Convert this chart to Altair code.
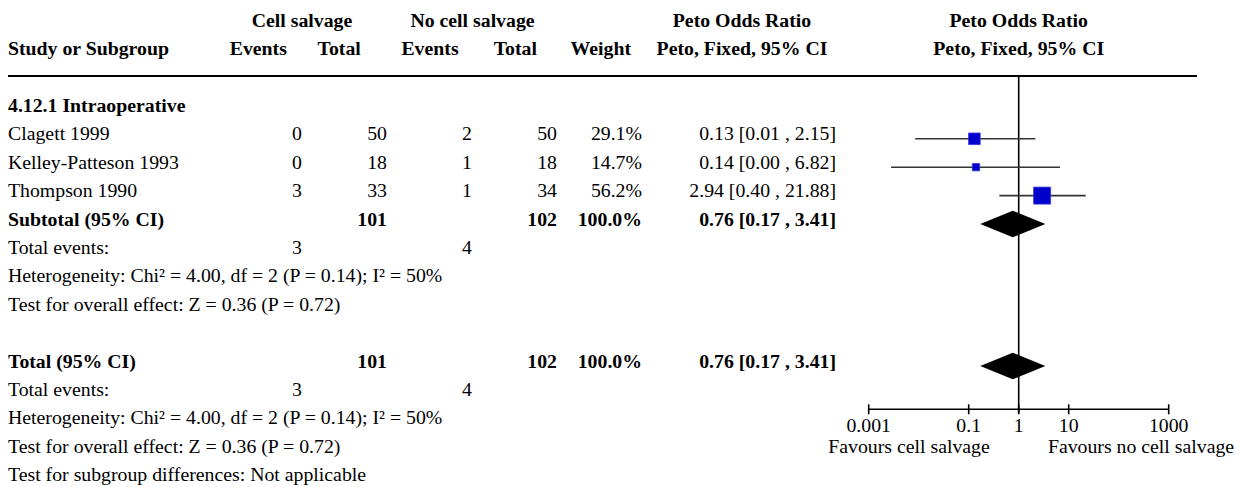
import altair as alt
import pandas as pd

FONT = "Liberation Serif"
FS = 19.8

# ---------------- data ----------------
subgroup_title = "4.12.1 Intraoperative"
studies = ["Clagett 1999", "Kelley-Patteson 1993", "Thompson 1990"]
cs_events = [0, 0, 3]
cs_total = [50, 18, 33]
ncs_events = [2, 1, 1]
ncs_total = [50, 18, 34]
weights = [29.1, 14.7, 56.2]
or_est = [0.13, 0.14, 2.94]
or_lo = [0.01, 0.00, 0.40]
or_hi = [2.15, 6.82, 21.88]
# CI ends as drawn in the plot (the 0.00 lower bound is drawn near 0.003)
ci_lo_drawn = [0.0085, 0.0028, 0.41]
ci_hi_drawn = [2.15, 6.7, 21.9]

pooled_labels = ["Subtotal (95% CI)", "Total (95% CI)"]
pooled_est = 0.76
pooled_lo = 0.17
pooled_hi = 3.41
pooled_cs_total = 101
pooled_ncs_total = 102
pooled_weight = 100.0
events_cs = 3
events_ncs = 4
heterogeneity = "Heterogeneity: Chi\u00b2 = 4.00, df = 2 (P = 0.14); I\u00b2 = 50%"
overall = "Test for overall effect: Z = 0.36 (P = 0.72)"
subgroup_diff = "Test for subgroup differences: Not applicable"

axis_ticks = [0.001, 0.1, 1, 10, 1000]
axis_labels = ["0.001", "0.1", "1", "10", "1000"]
favours_left = "Favours cell salvage"
favours_right = "Favours no cell salvage"

# ---------------- table cells ----------------
def fmt_or(e, l, h):
    return f"{e:.2f} [{l:.2f} , {h:.2f}]"

cells = []
def add(row, col, text, bold=False):
    cells.append({"row": row, "col": col, "text": str(text), "bold": bold})

add(-3, "cs_head", "Cell salvage", True)
add(-3, "ncs_head", "No cell salvage", True)
add(-3, "or_head", "Peto Odds Ratio", True)
add(-3, "plot_head", "Peto Odds Ratio", True)
add(-2, "study", "Study or Subgroup", True)
add(-2, "cs_ev_h", "Events", True)
add(-2, "cs_tot_h", "Total", True)
add(-2, "ncs_ev_h", "Events", True)
add(-2, "ncs_tot_h", "Total", True)
add(-2, "w_h", "Weight", True)
add(-2, "or_head", "Peto, Fixed, 95% CI", True)
add(-2, "plot_head", "Peto, Fixed, 95% CI", True)

add(0, "study", subgroup_title, True)
for i, s in enumerate(studies):
    r = 1 + i
    add(r, "study", s)
    add(r, "cs_ev", cs_events[i])
    add(r, "cs_tot", cs_total[i])
    add(r, "ncs_ev", ncs_events[i])
    add(r, "ncs_tot", ncs_total[i])
    add(r, "w", f"{weights[i]:.1f}%")
    add(r, "or", fmt_or(or_est[i], or_lo[i], or_hi[i]))

summary_rows = [4, 9]
for k, r in enumerate(summary_rows):
    add(r, "study", pooled_labels[k], True)
    add(r, "cs_tot", pooled_cs_total, True)
    add(r, "ncs_tot", pooled_ncs_total, True)
    add(r, "w", f"{pooled_weight:.1f}%", True)
    add(r, "or", fmt_or(pooled_est, pooled_lo, pooled_hi), True)
    add(r + 1, "study", "Total events:")
    add(r + 1, "cs_ev", events_cs)
    add(r + 1, "ncs_ev", events_ncs)
    add(r + 2, "study", heterogeneity)
    add(r + 3, "study", overall)
add(13, "study", subgroup_diff)

cells_df = pd.DataFrame(cells)

col_spec = {
    "study": (0, "left"),
    "cs_ev": (294, "right"),
    "cs_tot": (379, "right"),
    "ncs_ev": (464, "right"),
    "ncs_tot": (549, "right"),
    "w": (634, "right"),
    "or": (828, "right"),
    "cs_head": (294, "center"),
    "ncs_head": (464.5, "center"),
    "or_head": (734, "center"),
    "plot_head": (1010.7, "center"),
    "cs_ev_h": (250.3, "center"),
    "cs_tot_h": (331.2, "center"),
    "ncs_ev_h": (422, "center"),
    "ncs_tot_h": (507.3, "center"),
    "w_h": (592.8, "center"),
}

# ---------------- scales ----------------
ROW_H = 28.4
Y0 = 102.4  # pixel centre of row 0
yscale = alt.Scale(domain=[-3, 13], range=[Y0 - 3 * ROW_H, Y0 + 13 * ROW_H])
xscale = alt.Scale(type="log", domain=[0.001, 1000], range=[860.7, 1160.7])

layers = []
for col, (xpos, align) in col_spec.items():
    for bold in (False, True):
        sub = cells_df[(cells_df["col"] == col) & (cells_df["bold"] == bold)]
        if sub.empty:
            continue
        layers.append(
            alt.Chart(sub).mark_text(
                align=align, baseline="alphabetic", dy=1.6, font=FONT,
                fontSize=FS, fontWeight="bold" if bold else "normal", color="#000000"
            ).encode(
                x=alt.value(xpos),
                y=alt.Y("row:Q", scale=yscale, axis=None),
                text="text:N",
            )
        )

# ---------------- forest plot ----------------
study_df = pd.DataFrame({
    "row": [1 + i for i in range(len(studies))],
    "est": or_est,
    "lo": ci_lo_drawn,
    "hi": ci_hi_drawn,
    "weight": weights,
})

ci_rules = alt.Chart(study_df).mark_rule(color="#333333", strokeWidth=1.6).encode(
    x=alt.X("lo:Q", scale=xscale, axis=None),
    x2="hi:Q",
    y=alt.Y("row:Q", scale=yscale, axis=None),
)
squares = alt.Chart(study_df).mark_square(
    color="#0000CC", opacity=1, stroke="#3333DD", strokeWidth=0.8
).encode(
    x=alt.X("est:Q", scale=xscale, axis=None),
    y=alt.Y("row:Q", scale=yscale, axis=None),
    size=alt.Size("weight:Q", scale=alt.Scale(domain=[min(weights), max(weights)], range=[53, 289]), legend=None),
)

HALF = 0.47
dia = []
for r in summary_rows:
    dia.append({"row": r, "x": pooled_lo, "ytop": r, "ybot": r})
    dia.append({"row": r, "x": pooled_est, "ytop": r - HALF, "ybot": r + HALF})
    dia.append({"row": r, "x": pooled_hi, "ytop": r, "ybot": r})
dia_df = pd.DataFrame(dia)
diamonds = alt.Chart(dia_df).mark_area(color="#000000", orient="vertical", opacity=1).encode(
    x=alt.X("x:Q", scale=xscale, axis=None),
    y=alt.Y("ytop:Q", scale=yscale, axis=None),
    y2="ybot:Q",
    detail="row:N",
)

axis_df = pd.DataFrame({"v": axis_ticks, "label": axis_labels})
null_line = alt.Chart(pd.DataFrame({"v": [1]})).mark_rule(color="#000000", strokeWidth=1.6).encode(
    x=alt.X("v:Q", scale=xscale, axis=None),
    y=alt.value(68),
    y2=alt.value(405),
)
axis_line = alt.Chart(pd.DataFrame({"lo": [min(axis_ticks)], "hi": [max(axis_ticks)]})).mark_rule(
    color="#000000", strokeWidth=1.6
).encode(
    x=alt.X("lo:Q", scale=xscale, axis=None),
    x2="hi:Q",
    y=alt.value(401.3),
)
axis_tick_marks = alt.Chart(axis_df).mark_rule(color="#000000", strokeWidth=1.6).encode(
    x=alt.X("v:Q", scale=xscale, axis=None),
    y=alt.value(396.3),
    y2=alt.value(406.3),
)
axis_tick_labels = alt.Chart(axis_df).mark_text(
    align="center", baseline="alphabetic", font=FONT, fontSize=FS, color="#000000"
).encode(
    x=alt.X("v:Q", scale=xscale, axis=None),
    y=alt.value(423.7),
    text="label:N",
)
fav_df = pd.DataFrame({"text": [favours_left, favours_right]})
fav_left = alt.Chart(fav_df.iloc[[0]]).mark_text(
    align="center", baseline="alphabetic", font=FONT, fontSize=FS, color="#000000"
).encode(x=alt.value(901), y=alt.value(445.3), text="text:N")
fav_right = alt.Chart(fav_df.iloc[[1]]).mark_text(
    align="center", baseline="alphabetic", font=FONT, fontSize=FS, color="#000000"
).encode(x=alt.value(1133), y=alt.value(445.3), text="text:N")

header_line = alt.Chart(pd.DataFrame({"k": [0]})).mark_rule(color="#000000", strokeWidth=2).encode(
    x=alt.value(0), x2=alt.value(1189), y=alt.value(68)
)

chart = alt.layer(
    header_line, null_line, ci_rules, squares, diamonds,
    axis_line, axis_tick_marks, axis_tick_labels, fav_left, fav_right,
    *layers
).properties(
    width=1226, height=479, padding=0, autosize="none", background="white"
).configure_view(strokeWidth=0)

chart.save("out.html", embed_options={"renderer": "svg", "actions": False})
